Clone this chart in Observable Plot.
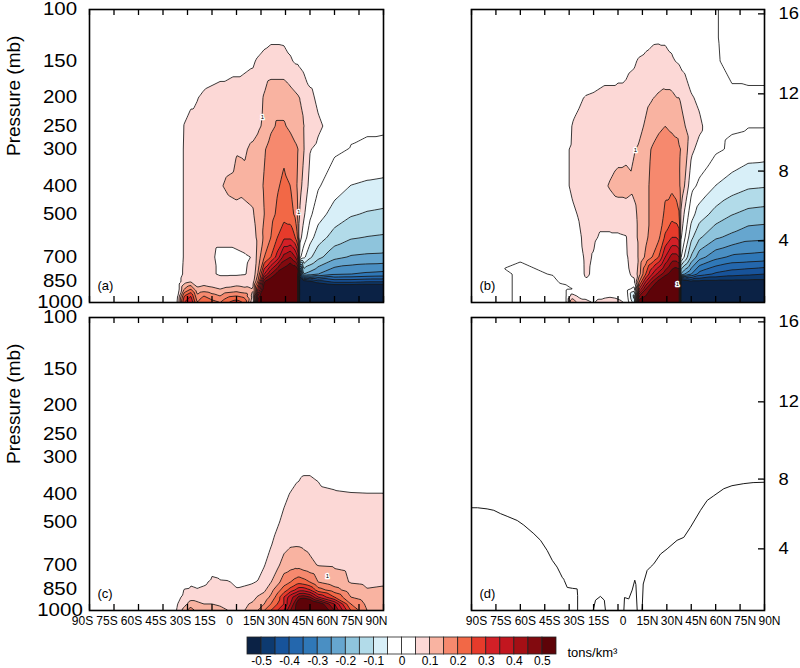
<!DOCTYPE html>
<html><head><meta charset="utf-8">
<script src="https://cdn.jsdelivr.net/npm/d3@7"></script>
<script src="https://cdn.jsdelivr.net/npm/@observablehq/plot@0.6"></script>
<style>
body{margin:0;background:#fff;}
#wrap{position:relative;width:800px;height:668px;overflow:hidden;background:#fff;font-family:"Liberation Sans",Arial,sans-serif;}
#wrap svg{position:absolute;overflow:visible;}
</style></head><body><div id="wrap"></div>
<script>
// ---- grid of the fields (latitude columns x pressure rows), values in tons/km3 ----
const lats = [-90,-60,-40,-36,-32,-28,-24,-20,-15,-10,-5,0,5,10,13,17,21,25,29,33,36,37.5,38.5,41,45,50,60,70,80,90];
const pressures = [100,125,150,200,250,300,400,500,600,700,800,850,900,950,1000];

const fieldA = [
 [0,0,0,0,0, 0,0,0,0,0, 0,0,0,0.005,0.01, 0.015,0.02,0.02,0.02,0.015, 0.01,0.01,0.005,0.005,0, 0,0,0,0,0],
 [0,0,0,0,0, 0,0,0,0,0.005, 0.01,0.01,0.015,0.02,0.025, 0.035,0.042,0.042,0.04,0.035, 0.03,0.03,0.025,0.02,0.01, 0.005,0.005,0.005,0.005,0.005],
 [0,0,0,0,0, 0,0,0.01,0.02,0.025, 0.03,0.035,0.04,0.045,0.055, 0.065,0.07,0.07,0.07,0.055, 0.045,0.045,0.04,0.03,0.02, 0.015,0.01,0.01,0.01,0.01],
 [0,0,0,0.01,0.03, 0.04,0.048,0.06,0.065,0.07, 0.07,0.07,0.07,0.07,0.08, 0.105,0.13,0.13,0.13,0.12, 0.11,0.105,0.1,0.095,0.062, 0.04,0.02,0.01,0.01,0.01],
 [0,0,0,0.02,0.052, 0.065,0.065,0.07,0.07,0.07, 0.07,0.075,0.075,0.08,0.09, 0.11,0.14,0.155,0.155,0.14, 0.125,0.12,0.115,0.102,0.08, 0.058,0.03,0.008,0.005,0.005],
 [0,0,0,0.02,0.055, 0.07,0.07,0.07,0.07,0.07, 0.075,0.097,0.095,0.11,0.12, 0.145,0.17,0.185,0.19,0.175, 0.16,0.152,0.14,0.105,0.052, 0.04,0.008,-0.002,-0.006,-0.008],
 [0,0,0,0.02,0.055, 0.07,0.07,0.07,0.07,0.095, 0.11,0.115,0.11,0.115,0.13, 0.155,0.175,0.195,0.21,0.2, 0.17,0.14,0.12,0.085,0.035, 0.005,-0.029,-0.051,-0.058,-0.062],
 [0,0,0,0.02,0.055, 0.07,0.07,0.07,0.07,0.075, 0.08,0.085,0.09,0.095,0.12, 0.15,0.18,0.21,0.23,0.22, 0.19,0.15,0.1,0.06,0.01, -0.03,-0.07,-0.095,-0.105,-0.11],
 [0,0,0,0.02,0.055, 0.065,0.07,0.07,0.06,0.06, 0.06,0.065,0.07,0.08,0.11, 0.16,0.2,0.25,0.29,0.29, 0.25,0.2,0.07,0.03,-0.03, -0.075,-0.122,-0.145,-0.152,-0.156],
 [0,0,0,0.02,0.055, 0.065,0.07,0.065,0.055,0.04, 0.04,0.04,0.045,0.052,0.12, 0.2,0.25,0.32,0.42,0.45, 0.4,0.35,0.02,-0.035,-0.09, -0.135,-0.186,-0.205,-0.21,-0.212],
 [0,0,0,0.02,0.06, 0.065,0.07,0.07,0.055,0.045, 0.045,0.045,0.048,0.06,0.15, 0.35,0.45,0.52,0.55,0.6, 0.6,0.6,-0.45,-0.2,-0.22, -0.25,-0.293,-0.3,-0.31,-0.316],
 [0,0,0,0.02,0.08, 0.1,0.075,0.08,0.075,0.07, 0.07,0.075,0.07,0.08,0.2, 0.5,0.55,0.6,0.6,0.6, 0.6,0.6,-0.6,-0.55,-0.52, -0.48,-0.44,-0.44,-0.45,-0.45],
 [0,0,0,0.02,0.15, 0.2,0.11,0.12,0.11,0.1, 0.11,0.12,0.11,0.1,0.3, 0.55,0.6,0.6,0.6,0.6, 0.6,0.6,-0.6,-0.6,-0.62, -0.62,-0.6,-0.6,-0.6,-0.6],
 [0,0,0,0.045,0.25, 0.3,0.16,0.2,0.17,0.15, 0.19,0.2,0.18,0.08,0.45, 0.6,0.6,0.6,0.6,0.6, 0.6,0.6,-0.6,-0.62,-0.65, -0.66,-0.66,-0.66,-0.66,-0.66],
 [0,0,0,0.055,0.3, 0.35,0.2,0.25,0.22,0.2, 0.25,0.28,0.24,0.05,0.55, 0.6,0.6,0.6,0.6,0.6, 0.6,0.6,-0.6,-0.65,-0.68, -0.7,-0.7,-0.7,-0.7,-0.7]
];

const fieldB = [
 [0,0,0,0,0, 0,0,0,0,0, 0,0,0,0.005,0.01, 0.015,0.02,0.02,0.02,0.015, 0.01,0.005,0.003,0.002,0.002, 0.002,0.002,-0.01,-0.01,-0.01],
 [0,0,0,0,0, 0,0,0,0,0.005, 0.008,0.01,0.012,0.02,0.025, 0.035,0.042,0.043,0.043,0.04, 0.03,0.02,0.01,0.008,0.005, 0.003,0.002,-0.01,-0.01,-0.01],
 [0,0,0,0,0, 0,0,0.01,0.02,0.025, 0.03,0.035,0.04,0.045,0.055, 0.06,0.065,0.07,0.065,0.055, 0.048,0.045,0.04,0.035,0.015, 0.005,0.003,-0.008,-0.01,-0.01],
 [0,0,0,0,0.01, 0.035,0.045,0.052,0.055,0.06, 0.06,0.06,0.06,0.07,0.075, 0.09,0.098,0.105,0.11,0.11, 0.1,0.1,0.095,0.08,0.055, 0.04,0.01,0.005,0.005,0.005],
 [0,0,0,0,0.03, 0.052,0.058,0.06,0.065,0.065, 0.065,0.065,0.065,0.08,0.09, 0.105,0.12,0.14,0.15,0.14, 0.13,0.13,0.12,0.102,0.075, 0.06,0.01,0.004,0.002,0.002],
 [0,0,0,0.005,0.045, 0.055,0.058,0.06,0.065,0.065, 0.07,0.08,0.085,0.098,0.105, 0.13,0.155,0.17,0.18,0.175, 0.17,0.155,0.15,0.13,0.06, 0.035,0.008,-0.007,-0.024,-0.026],
 [0,0,0,0.005,0.045, 0.055,0.058,0.06,0.065,0.085, 0.105,0.12,0.12,0.11,0.12, 0.14,0.16,0.17,0.19,0.19, 0.18,0.16,0.14,0.098,0.015, -0.01,-0.051,-0.075,-0.092,-0.096],
 [0,0,0,0.005,0.03, 0.045,0.052,0.06,0.065,0.065, 0.065,0.07,0.075,0.09,0.11, 0.14,0.16,0.17,0.21,0.23, 0.22,0.205,0.098,0.04,-0.03, -0.075,-0.118,-0.148,-0.165,-0.17],
 [0,0,0,0,0.01, 0.03,0.045,0.058,0.055,0.045, 0.045,0.045,0.048,0.085,0.11, 0.14,0.17,0.19,0.26,0.3, 0.3,0.28,0.06,0.005,-0.088, -0.143,-0.193,-0.213,-0.235,-0.239],
 [0.01,0.002,0.002,0.001,0, 0.02,0.035,0.056,0.048,0.03, 0.035,0.035,0.045,0.07,0.11, 0.16,0.2,0.25,0.35,0.42, 0.42,0.4,0.01,-0.06,-0.157, -0.23,-0.283,-0.31,-0.315,-0.321],
 [0.025,-0.005,0.001,0.002,0.002, 0.01,0.03,0.055,0.045,0.03, 0.03,0.03,0.04,0.06,0.13, 0.25,0.35,0.42,0.48,0.53, 0.55,0.55,-0.2,-0.25,-0.3, -0.37,-0.41,-0.43,-0.44,-0.45],
 [0.025,-0.005,-0.005,0.001,0.002, 0,0.02,0.045,0.04,0.02, 0.03,0.025,0.03,0.04,0.2, 0.35,0.45,0.52,0.58,0.6, 0.6,0.6,-0.6,-0.55,-0.52, -0.52,-0.52,-0.52,-0.52,-0.52],
 [0.025,-0.005,-0.005,-0.005,-0.003, 0,0.02,0.03,0.03,0.03, 0.03,0.02,0.02,-0.02,0.3, 0.45,0.52,0.6,0.6,0.6, 0.6,0.6,-0.6,-0.6,-0.62, -0.62,-0.6,-0.6,-0.6,-0.6],
 [0.025,-0.005,-0.005,-0.005,-0.003, 0.07,0.04,0.04,0.04,0.04, 0.045,0.04,0.03,-0.12,0.45, 0.5,0.6,0.6,0.6,0.6, 0.6,0.6,-0.6,-0.62,-0.65, -0.66,-0.66,-0.66,-0.66,-0.66],
 [0.025,-0.005,-0.005,-0.005,-0.003, 0.15,0.08,0.06,0.048,0.06, 0.07,0.06,0.045,-0.08,0.55, 0.6,0.6,0.6,0.6,0.6, 0.6,0.6,-0.6,-0.65,-0.68, -0.7,-0.7,-0.7,-0.7,-0.7]
];

const fieldC = [
 [0,0,0,0,0, 0,0,0,0,0, 0,0,0,0,0, 0,0,0,0,0, 0,0,0,0,0, 0,0,0,0,0],
 [0,0,0,0,0, 0,0,0,0,0, 0,0,0,0,0, 0,0,0,0,0, 0,0,0,0,0, 0,0,0,0,0],
 [0,0,0,0,0, 0,0,0,0,0, 0,0,0,0,0, 0,0,0,0,0, 0,0,0,0,0, 0,0,0,0,0],
 [0,0,0,0,0, 0,0,0,0,0, 0,0,0,0,0, 0,0,0,0,0, 0,0,0,0,0, 0,0,0,0,0],
 [0,0,0,0,0, 0,0,0,0,0, 0,0,0,0,0, 0,0,0,0,0, 0,0,0,0,0, 0,0,0,0,0],
 [0,0,0,0,0, 0,0,0,0,0, 0,0,0,0,0, 0,0,0,0,0.01, 0.02,0.025,0.028,0.035,0.035, 0.03,0.01,0,0,0],
 [0,0,0,0,0, 0,0,0,0,0, 0,0,0,0,0, 0,0,0.02,0.04,0.052, 0.06,0.062,0.063,0.065,0.065, 0.06,0.055,0.052,0.051,0.051],
 [0,0,0,0,0, 0,0,0,0,0, 0,0,0,0,0, 0.01,0.03,0.045,0.06,0.075, 0.08,0.08,0.08,0.08,0.078, 0.075,0.07,0.07,0.065,0.06],
 [0,0,0,0,0, 0,0,0,0,0, 0,0,0,0,0.01, 0.03,0.048,0.065,0.085,0.097, 0.098,0.098,0.098,0.095,0.09, 0.085,0.08,0.08,0.075,0.07],
 [0,0,0,0,0, 0,0,0.02,0.04,0.03, 0.02,0,0.01,0.02,0.03, 0.048,0.07,0.09,0.12,0.13, 0.135,0.13,0.13,0.12,0.11, 0.098,0.095,0.09,0.085,0.08],
 [0,0,0,0.01,0.03, 0.045,0.04,0.045,0.055,0.053, 0.052,0.045,0.045,0.048,0.052, 0.07,0.098,0.13,0.18,0.2, 0.22,0.23,0.23,0.22,0.2, 0.15,0.12,0.097,0.092,0.095],
 [0,0,0,0.02,0.052, 0.055,0.052,0.055,0.06,0.06, 0.058,0.052,0.055,0.06,0.065, 0.09,0.13,0.18,0.22,0.27, 0.3,0.32,0.33,0.33,0.3, 0.22,0.17,0.12,0.102,0.105],
 [0,0,0,0.04,0.06, 0.08,0.08,0.07,0.07,0.07, 0.065,0.06,0.07,0.08,0.105, 0.12,0.16,0.22,0.3,0.38, 0.42,0.45,0.47,0.48,0.45, 0.35,0.25,0.15,0.12,0.11],
 [0,0,0,0.05,0.08, 0.12,0.11,0.1,0.1,0.09, 0.08,0.07,0.09,0.11,0.12, 0.15,0.2,0.25,0.3,0.4, 0.48,0.55,0.6,0.6,0.6, 0.55,0.4,0.2,0.14,0.12],
 [0,0,0,0.06,0.12, 0.18,0.13,0.12,0.12,0.12, 0.1,0.08,0.1,0.12,0.15, 0.2,0.25,0.3,0.35,0.45, 0.5,0.55,0.6,0.6,0.6, 0.6,0.45,0.25,0.15,0.13]
];

// panel (d): the single contour line, read as separate pieces
const dLeftLat  = [-90,-86.3,-80.4,-76.3,-72.2,-68.1,-61.9,-57.9,-51.7,-47.6,-43.5,-40.4,-37.4,-35.3,-34.3,-33.3,-33,-31.2,-28,-25.1,-24.8,-24.8];
const dLeftP    = [446,446,450,455,467,477,493,511,547,576,624,674,711,750,770,782,790,834,840,844,890,1000];
const dMidLat   = [-15.3,-13.8,-10.8,-8.4,-7.7];
const dMidP     = [1000,922,895,922,1000];
const dSpikeLat = [3.6,4.0,6.6,8.7,10.3,11.0,11.8];
const dSpikeP   = [1000,903,913,852,788,815,1000];
const dRightLat = [14.8,15.5,17.9,19.9,22,26.1,30.2,36.3,40.4,44.5,50.7,54.8,58.8,65,70,77.3,83,90];
const dRightP   = [1000,812,730,711,693,642,616,576,563,520,455,421,406,384,375,369,366,365];

// contour labels ("1") seen on the lines
const labelLatA = [15.9, 38];   const labelPA = [233, 493];
const labelLatB = [10.7, 36.5]; const labelPB = [303, 863];
const labelLatC = [55.7];       const labelPC = [765];

// levels, colours, ticks
const levels = [-0.5,-0.45,-0.4,-0.35,-0.3,-0.25,-0.2,-0.15,-0.1,-0.05,0,0.05,0.1,0.15,0.2,0.25,0.3,0.35,0.4,0.45,0.5];
const colors = ["#0b2245","#0d3a70","#17539a","#2467ad","#2f78b8","#4a8fc3","#66a6cf","#8ec4dc","#b2dbe9","#d8eff8","#ffffff","#ffffff",
                "#fcd8d6","#f9b3a1","#f6896e","#f26846","#e63b2b","#d32027","#c2161f","#a40f15","#820a0f","#5e0308"];
const colorbarLabels = ["-0.5","-0.4","-0.3","-0.2","-0.1","0","0.1","0.2","0.3","0.4","0.5"];
const latTicks = [-90,-75,-60,-45,-30,-15,0,15,30,45,60,75,90];
const latTickLabels = ["90S","75S","60S","45S","30S","15S","0","15N","30N","45N","60N","75N","90N"];
const pressureTicks = [100,150,200,250,300,400,500,700,850,1000];
const heightTicks = [4,8,12,16];
const heightTickPressures = [616,356,194,103.5];

const thresholds = [-1, ...levels];
const FONT = "Liberation Sans, Arial, sans-serif";
const STRETCH = {"17.5": 1.17, "17": 1.08};

function samples(field) {
  const out = [];
  pressures.forEach((p, i) => lats.forEach((lat, j) => out.push({lat, p, v: field[i][j]})));
  return out;
}
function series(pieces) {
  const out = [];
  pieces.forEach(([la, pr], k) => la.forEach((lat, i) => out.push({lat, p: pr[i], seg: k})));
  return out;
}

function panel(o) {
  const plotW = o.width - o.mL - o.mR, plotH = o.height - o.mT - o.mB;
  const marks = [];
  if (o.field) marks.push(Plot.contour(samples(o.field), {
    x: "lat", y: "p", fill: "v", thresholds, interpolate: "barycentric", pixelSize: 1,
    stroke: "#181818", strokeWidth: 0.85
  }));
  if (o.lines) marks.push(Plot.line(series(o.lines), {x: "lat", y: "p", z: "seg", stroke: "#181818", strokeWidth: 1, curve: "linear"}));
  if (o.labLat) marks.push(Plot.text(o.labLat, {x: d => d, y: (d, i) => o.labP[i], text: () => "1", fontSize: 6, fill: "#000", stroke: "#fff", strokeWidth: 2.5}));
  // inward ticks on top and bottom frames
  marks.push(Plot.tickX(latTicks, {x: d => d, insetTop: plotH - 6, stroke: "#000", strokeWidth: 1.3}));
  marks.push(Plot.tickX(latTicks, {x: d => d, insetBottom: plotH - 6, stroke: "#000", strokeWidth: 1.3}));
  marks.push(Plot.frame({stroke: "#000", strokeWidth: 1.6}));
  if (o.left) {
    marks.push(Plot.text(pressureTicks, {frameAnchor: "left", y: d => d, text: d => String(d), dx: -29.5, textAnchor: "middle", fontSize: 17.5}));
    marks.push(Plot.text(["Pressure (mb)"], {frameAnchor: "left", rotate: -90, dx: -76, fontSize: 19}));
  }
  if (o.right) {
    marks.push(Plot.tickY(heightTickPressures, {y: d => d, insetLeft: plotW - 6, stroke: "#000", strokeWidth: 1.3}));
    marks.push(Plot.text(heightTicks, {frameAnchor: "right", y: (d, i) => heightTickPressures[i], text: d => String(d), dx: 14, textAnchor: "start", fontSize: 17}));
  }
  if (o.bottom) {
    marks.push(Plot.text(latTicks, {frameAnchor: "bottom", x: d => d, text: (d, i) => latTickLabels[i], textAnchor: "middle", dx: o.labDx, dy: 14, fontSize: 12}));
  }
  marks.push(Plot.text([o.tag], {frameAnchor: "bottom-left", dx: 8, dy: -13, textAnchor: "start", fontSize: 13}));
  const svg = Plot.plot({
    width: o.width, height: o.height,
    marginLeft: o.mL, marginRight: o.mR, marginTop: o.mT, marginBottom: o.mB,
    x: {domain: [-90, 90], axis: null},
    y: {type: "log", domain: [1000, 100], axis: null},
    color: {type: "threshold", domain: levels, range: colors},
    style: {background: "transparent", overflow: "visible", fontFamily: FONT},
    marks
  });
  place(svg, o.left0, o.top0);
  return svg;
}

function place(svg, left, top) {
  svg.style.position = "absolute";
  svg.style.left = left + "px";
  svg.style.top = top + "px";
  svg.style.maxWidth = "none";
  // the reference's axis numbers are slightly wide: stretch those texts horizontally
  svg.querySelectorAll("g[font-size]").forEach(g => {
    const k = STRETCH[g.getAttribute("font-size")];
    if (!k) return;
    g.querySelectorAll("text").forEach(t => {
      const tr = t.getAttribute("transform") || "";
      if (!/rotate/.test(tr)) t.setAttribute("transform", tr + ` scale(${k},1)`);
    });
  });
  document.getElementById("wrap").appendChild(svg);
}

panel({field: fieldA, tag: "(a)", left0: 0, top0: 0, width: 400, height: 310, mL: 89, mR: 17, mT: 9, mB: 8, left: true, labLat: labelLatA, labP: labelPA});
panel({field: fieldB, tag: "(b)", left0: 400, top0: 0, width: 400, height: 310, mL: 71, mR: 36, mT: 9, mB: 8, right: true, labLat: labelLatB, labP: labelPB});
panel({field: fieldC, tag: "(c)", left0: 0, top0: 310, width: 400, height: 330, mL: 89, mR: 17, mT: 7, mB: 30, left: true, bottom: true, labDx: -7, labLat: labelLatC, labP: labelPC});
panel({lines: [[dLeftLat, dLeftP], [dMidLat, dMidP], [dSpikeLat, dSpikeP], [dRightLat, dRightP]], tag: "(d)", left0: 400, top0: 310, width: 400, height: 330, mL: 71, mR: 36, mT: 7, mB: 30, right: true, bottom: true, labDx: 5});

// colour bar
const bar = Plot.plot({
  width: 800, height: 40, marginLeft: 247, marginRight: 244, marginTop: 9, marginBottom: 14,
  x: {domain: [0, colors.length], axis: null},
  y: {domain: [0, 1], axis: null},
  color: {type: "identity"},
  style: {background: "transparent", overflow: "visible", fontFamily: FONT},
  marks: [
    Plot.rect(colors, {x1: (d, i) => i, x2: (d, i) => i + 1, y1: 0, y2: 1, fill: d => d, stroke: "#222", strokeWidth: 0.8}),
    Plot.text(colorbarLabels, {x: (d, i) => 1 + 2 * i, y: 0, dy: 7, fontSize: 12}),
    Plot.text(["tons/km³"], {frameAnchor: "right", dx: 11, dy: 7, textAnchor: "start", fontSize: 13})
  ]
});
place(bar, 0, 628);
</script></body></html>
